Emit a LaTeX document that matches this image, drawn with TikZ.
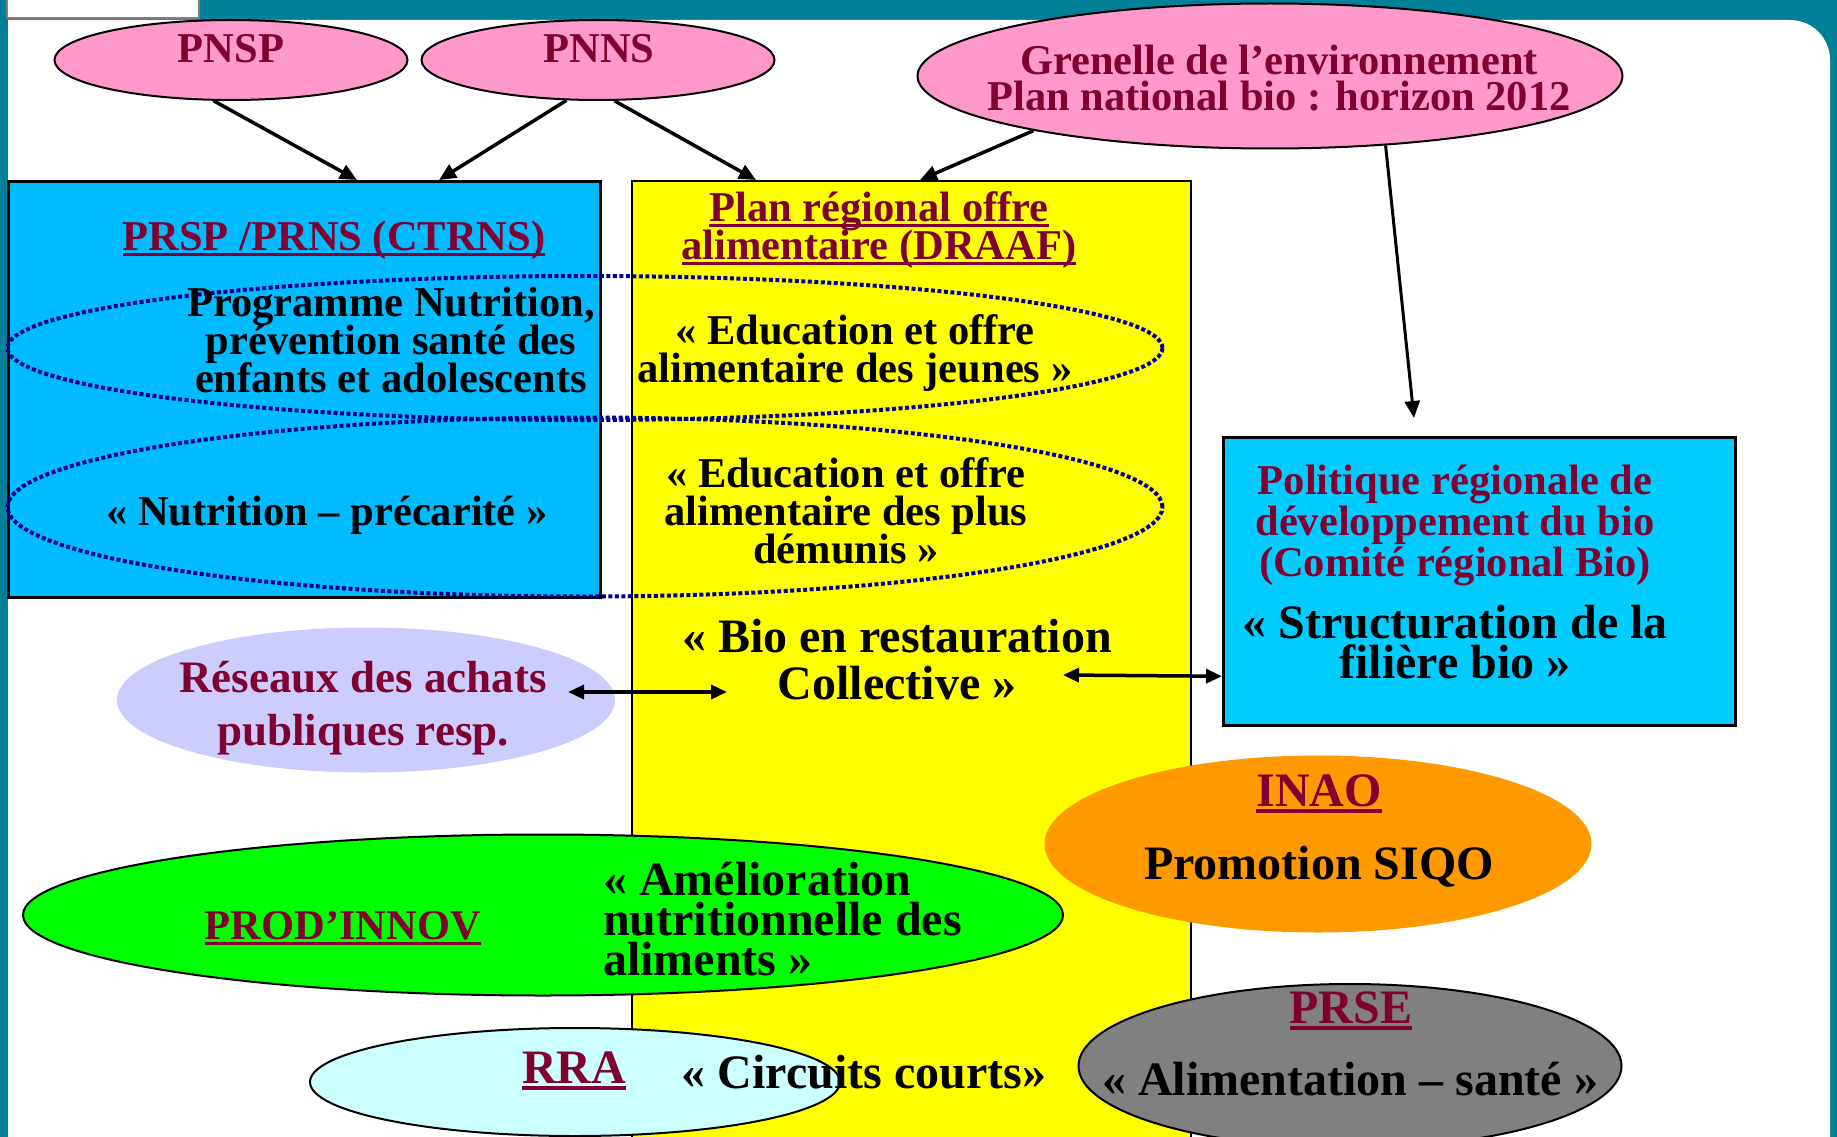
\documentclass[tikz,border=0pt]{standalone}
\usepackage{fontspec}
\setmainfont{Liberation Serif}
\usetikzlibrary{arrows.meta,shapes.geometric}

\definecolor{frameteal}{RGB}{0,128,152}
\definecolor{titlered}{RGB}{128,0,48}
\definecolor{pinkoval}{RGB}{255,153,204}
\definecolor{skyblue}{RGB}{0,187,255}
\definecolor{lightsky}{RGB}{0,204,255}
\definecolor{planyellow}{RGB}{255,255,0}
\definecolor{lavend}{RGB}{204,204,255}
\definecolor{orangeoval}{RGB}{255,153,0}
\definecolor{greenoval}{RGB}{0,255,0}
\definecolor{palecyan}{RGB}{204,255,255}
\definecolor{navydot}{RGB}{0,0,140}

\newcommand{\txtfont}[2]{\fontsize{#1}{#2}\selectfont\bfseries\lineskiplimit=-20pt\relax}
\newcommand{\undl}[1]{\setbox0=\hbox{#1}\rlap{\rule[-0.14em]{\wd0}{0.07em}}\box0}

\begin{document}
\begin{tikzpicture}[x=1pt,y=-1pt]
	\tikzset{txt/.style={font=\txtfont{42.5}{38}, inner sep=0pt, align=center, anchor=base}}
	\tikzset{bigtxt/.style={txt, font=\txtfont{48}{40}}}
	\tikzset{ttl/.style={txt, text=titlered}}
	\tikzset{oval/.style={ellipse, inner sep=0pt}}
	\tikzset{box/.style={draw, line width=2.5pt, anchor=north west, inner sep=0pt}}
	\tikzset{dotoval/.style={oval, draw=navydot, line width=4pt, dash pattern=on 4pt off 2.5pt}}
	\tikzset{arr/.style={line width=3.5pt, -{Triangle[length=17pt,width=15pt]}}}
	\tikzset{dblarr/.style={line width=3.5pt, {Triangle[length=16pt,width=14pt]}-{Triangle[length=16pt,width=14pt]}}}

	\useasboundingbox (0,0) rectangle (1837,1137);
	% slide frame
	\fill[frameteal] (0,0) rectangle (1837,1137);
	\fill[white] (8,1137) -- (8,20) -- (1790,20) arc[start angle=90,end angle=0,radius=40pt] -- (1830,1137) -- cycle;
	\filldraw[fill=white, draw=gray, line width=2pt] (7,-5) rectangle (199,18);

	% national plans
	\node[oval, draw, line width=2pt, fill=pinkoval, minimum width=353pt, minimum height=80pt] (pnsp) at (231,60) {};
	\node[oval, draw, line width=2pt, fill=pinkoval, minimum width=353pt, minimum height=80pt] (pnns) at (598,60) {};
	\node[oval, draw, line width=2pt, fill=pinkoval, minimum width=705pt, minimum height=145pt] (grenelle) at (1270,76) {};
	\node[ttl] (pnsp-t) at (231,63) {PNSP};
	\node[ttl] (pnns-t) at (599,63) {PNNS};
	\node[ttl, font=\txtfont{42.5}{36}] (grenelle-t) at (1279,111) {Grenelle de l’environnement\\Plan national bio : horizon 2012};

	% regional boxes
	\node[box, fill=skyblue, minimum width=592pt, minimum height=416pt] (prsp) at (7,180) {};
	\node[box, fill=planyellow, line width=2pt, minimum width=559pt, minimum height=1000pt] (plan) at (631,180) {};
	\node[box, fill=lightsky, minimum width=512pt, minimum height=288pt] (biobox) at (1222,436) {};

	\draw[arr] (pnsp.247) -- ([xshift=350pt]prsp.north west);
	\draw[arr] (pnns.232) -- ([xshift=432pt]prsp.north west);
	\draw[arr] (pnns.292) -- ([xshift=125pt]plan.north west);
	\draw[arr] (grenelle.193) -- ([xshift=289pt]plan.north west);
	\coordinate (biotip) at (1414,418);
	\draw[arr, line width=3pt] (grenelle.329) -- (biotip);

	\node[dotoval, minimum width=1155pt, minimum height=144pt] (jeunes) at (585,348) {};
	\node[dotoval, minimum width=1155pt, minimum height=179pt] (demunis) at (585,507) {};

	\node[ttl] (prsp-t) at (334,250) {\undl{PRSP /PRNS (CTRNS)}};
	\node[ttl] (plan-t) at (879,259) {\undl{Plan régional offre}\\\undl{alimentaire (DRAAF)}};
	\node[txt] (prog-t) at (391,392) {Programme Nutrition,\\prévention santé des\\enfants et adolescents};
	\node[txt] (jeunes-t) at (855,382) {« Education et offre\\alimentaire des jeunes »};
	\node[txt] (precar-t) at (327,525) {« Nutrition – précarité »};
	\node[txt] (demunis-t) at (846,563) {« Education et offre\\alimentaire des plus\\démunis »};
	\node[bigtxt, font=\txtfont{48}{47}] (bio-t) at (897,699) {« Bio en restauration\\Collective »};
	\node[ttl, font=\txtfont{42.5}{41}] (biobox-t) at (1455,576) {Politique régionale de\\développement du bio\\(Comité régional Bio)};
	\node[bigtxt] (filiere-t) at (1455,678) {« Structuration de la\\filière bio »};

	% partners
	\node[oval, fill=lavend, minimum width=498pt, minimum height=145pt] (reseaux) at (366,700) {};
	\node[ttl, font=\txtfont{45}{53}] (reseaux-t) at (363,745) {Réseaux des achats\\publiques resp.};

	\node[oval, fill=orangeoval, minimum width=547pt, minimum height=177pt] (inao) at (1318,844) {};
	\node[ttl, font=\txtfont{48}{40}] (inao-t) at (1319,806) {\undl{INAO}};
	\node[bigtxt] (siqo-t) at (1319,879) {Promotion SIQO};

	\node[oval, draw, line width=2pt, fill=greenoval, minimum width=1040pt, minimum height=161pt] (prodinnov) at (543,915) {};
	\node[ttl] (prodinnov-t) at (343,939) {\undl{PROD’INNOV}};
	\node[bigtxt, align=left, anchor=base west] (amelio-t) at (603,975) {« Amélioration\\nutritionnelle des\\aliments »};

	\node[oval, draw, line width=2pt, fill=palecyan, minimum width=530pt, minimum height=108pt] (rra) at (575,1082) {};
	\node[ttl, font=\txtfont{48}{40}] (rra-t) at (574,1083) {\undl{RRA}};
	\node[bigtxt] (circuits-t) at (864,1088) {« Circuits courts»};

	\node[oval, draw, line width=2pt, fill=gray, minimum width=543pt, minimum height=164pt] (prse) at (1350,1066) {};
	\node[ttl, font=\txtfont{48}{40}] (prse-t) at (1351,1023) {\undl{PRSE}};
	\node[bigtxt] (alim-t) at (1350,1095) {« Alimentation – santé »};

	\coordinate (achats-end) at (568,692);
	\coordinate (bio-west) at (727,692);
	\draw[dblarr] (achats-end) -- (bio-west);
	\coordinate (bio-east) at (1063,675);
	\draw[dblarr] (bio-east) -- ([yshift=-95pt]biobox.west);
\end{tikzpicture}
\end{document}
